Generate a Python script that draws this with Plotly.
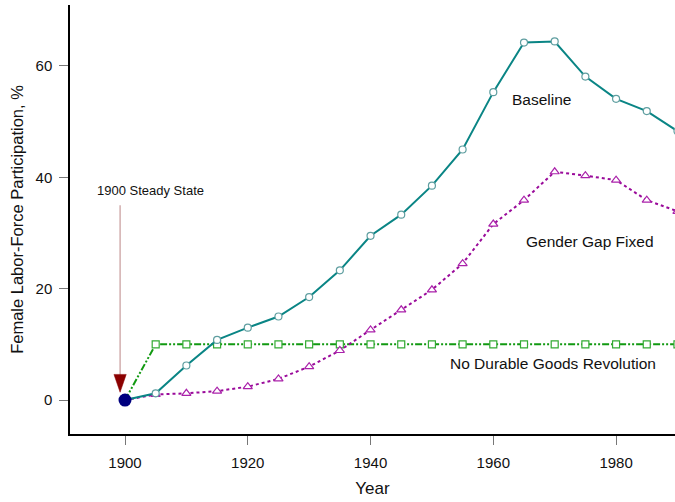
import plotly.graph_objects as go

# Simulated female labor-force participation (%), every five years
years = [1900, 1905, 1910, 1915, 1920, 1925, 1930, 1935, 1940, 1945,
         1950, 1955, 1960, 1965, 1970, 1975, 1980, 1985, 1990]
baseline = [0.0, 1.2, 6.2, 10.8, 13.0, 15.0, 18.5, 23.3, 29.5, 33.3,
            38.5, 45.0, 55.3, 64.2, 64.4, 58.1, 54.1, 51.9, 48.3]
gender_gap_fixed = [0.0, 1.0, 1.2, 1.6, 2.4, 3.8, 6.0, 8.9, 12.6, 16.2,
                    19.8, 24.5, 31.6, 35.9, 41.0, 40.3, 39.5, 35.9, 33.9]
no_durable_goods = [0.0, 10.0, 10.0, 10.0, 10.0, 10.0, 10.0, 10.0, 10.0, 10.0,
                    10.0, 10.0, 10.0, 10.0, 10.0, 10.0, 10.0, 10.0, 10.0]

steady_year, steady_value = 1900, 0.0
x_ticks = [1900, 1920, 1940, 1960, 1980]
y_ticks = [0, 20, 40, 60]

FONT = "Liberation Sans, Arial, sans-serif"

fig = go.Figure()

fig.add_trace(go.Scatter(
    x=years, y=no_durable_goods, mode="lines+markers",
    line=dict(color="#119911", width=2, dash="7px,2px,2px,2px,2px,2px"),
    marker=dict(symbol="square", size=7, color="white",
                line=dict(color="#33aa33", width=1.2)),
    name="No Durable Goods Revolution"))

fig.add_trace(go.Scatter(
    x=years, y=gender_gap_fixed, mode="lines+markers",
    line=dict(color="#9a0a9a", width=2, dash="3px,3px"),
    marker=dict(symbol="triangle-up", size=8, color="white",
                line=dict(color="#aa22aa", width=1.2)),
    name="Gender Gap Fixed"))

fig.add_trace(go.Scatter(
    x=years, y=baseline, mode="lines+markers",
    line=dict(color="#0a8585", width=2),
    marker=dict(symbol="circle", size=7, color="white",
                line=dict(color="#5f9ea0", width=1.2)),
    name="Baseline"))

fig.add_trace(go.Scatter(
    x=[steady_year], y=[steady_value], mode="markers",
    marker=dict(symbol="circle", size=13, color="#00007f"),
    name="1900 Steady State"))

# Arrow pointing at the 1900 steady state
ax_x = steady_year - 0.8
tip_y = steady_value + 1.4
fig.add_shape(type="line", x0=ax_x, x1=ax_x, y0=35.0, y1=tip_y + 2.5,
              line=dict(color="#c79a9a", width=1.2))
fig.add_shape(type="path",
              path=f"M {ax_x - 1.0},{tip_y + 3.2} L {ax_x + 1.0},{tip_y + 3.2} L {ax_x},{tip_y} Z",
              fillcolor="#8b0000", line=dict(color="#8b0000", width=0.5))

annotations = [
    dict(x=1904.1, y=37.7, text="1900 Steady State", size=13),
    dict(x=1967.8, y=54.0, text="Baseline", size=15.5),
    dict(x=1975.7, y=28.5, text="Gender Gap Fixed", size=15.5),
    dict(x=1969.7, y=6.6, text="No Durable Goods Revolution", size=15.5),
]
for a in annotations:
    fig.add_annotation(x=a["x"], y=a["y"], text=a["text"], showarrow=False,
                       xanchor="center", yanchor="middle",
                       font=dict(family=FONT, color="#111111", size=a["size"]))

axis_common = dict(showline=True, linecolor="black", linewidth=1.5,
                   ticks="outside", tickcolor="#777777", ticklen=9, tickwidth=1.2,
                   showgrid=False, zeroline=False,
                   tickfont=dict(family=FONT, size=15, color="#111111"))

fig.update_xaxes(range=[1891.04, 1989.6], tickvals=x_ticks, ticklabelstandoff=5,
                 title=dict(text="Year", font=dict(family=FONT, size=17, color="#111111"),
                            standoff=12),
                 **axis_common)
fig.update_yaxes(range=[-6.1, 70.95], tickvals=y_ticks, ticklabelstandoff=4,
                 title=dict(text="Female Labor-Force Participation, %",
                            font=dict(family=FONT, size=16.5, color="#111111"),
                            standoff=8),
                 **axis_common)

fig.update_layout(
    width=675, height=502,
    margin=dict(l=70, r=0, t=5, b=68),
    plot_bgcolor="white", paper_bgcolor="white",
    showlegend=False,
    font=dict(family=FONT),
)

fig.write_html("out.html")
